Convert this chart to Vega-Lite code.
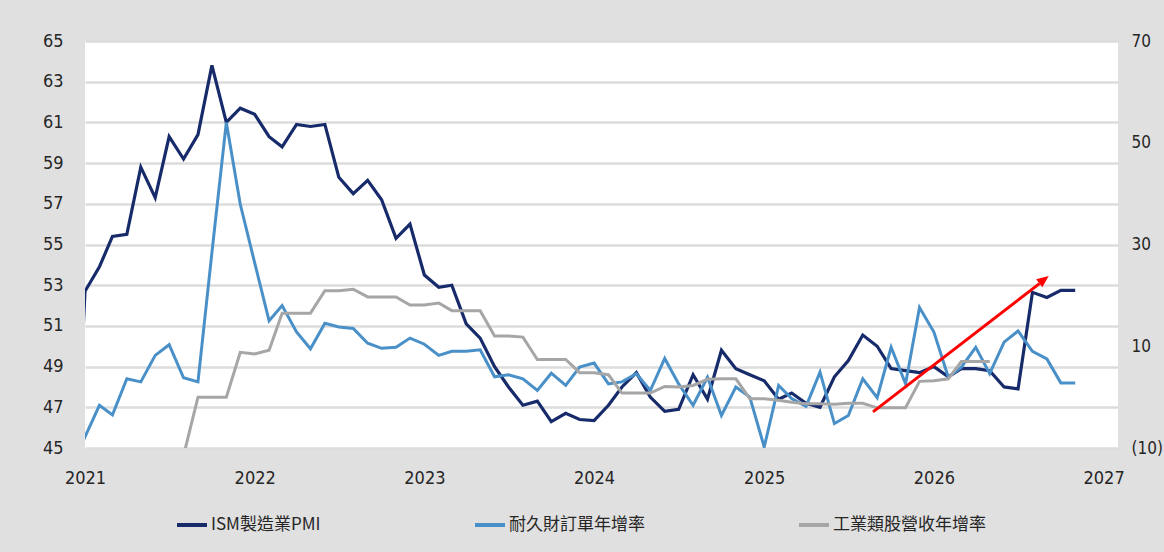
{
  "$schema": "https://vega.github.io/schema/vega-lite/v6.json",
  "width": 1033,
  "height": 407,
  "autosize": {"type": "none"},
  "padding": {"left": 85, "top": 41, "right": 46, "bottom": 104},
  "background": "#e0e0e0",
  "datasets": {
    "pmi": [
      {"d": "2020-12-01", "s": "ISM製造業PMI", "v": 38},
      {"d": "2021-01-01", "s": "ISM製造業PMI", "v": 52.7},
      {"d": "2021-02-01", "s": "ISM製造業PMI", "v": 53.9},
      {"d": "2021-03-01", "s": "ISM製造業PMI", "v": 55.4},
      {"d": "2021-04-01", "s": "ISM製造業PMI", "v": 55.5},
      {"d": "2021-05-01", "s": "ISM製造業PMI", "v": 58.8},
      {"d": "2021-06-01", "s": "ISM製造業PMI", "v": 57.3},
      {"d": "2021-07-01", "s": "ISM製造業PMI", "v": 60.3},
      {"d": "2021-08-01", "s": "ISM製造業PMI", "v": 59.2},
      {"d": "2021-09-01", "s": "ISM製造業PMI", "v": 60.4},
      {"d": "2021-10-01", "s": "ISM製造業PMI", "v": 63.8},
      {"d": "2021-11-01", "s": "ISM製造業PMI", "v": 61.0},
      {"d": "2021-12-01", "s": "ISM製造業PMI", "v": 61.7},
      {"d": "2022-01-01", "s": "ISM製造業PMI", "v": 61.4},
      {"d": "2022-02-01", "s": "ISM製造業PMI", "v": 60.3},
      {"d": "2022-03-01", "s": "ISM製造業PMI", "v": 59.8},
      {"d": "2022-04-01", "s": "ISM製造業PMI", "v": 60.9},
      {"d": "2022-05-01", "s": "ISM製造業PMI", "v": 60.8},
      {"d": "2022-06-01", "s": "ISM製造業PMI", "v": 60.9},
      {"d": "2022-07-01", "s": "ISM製造業PMI", "v": 58.3},
      {"d": "2022-08-01", "s": "ISM製造業PMI", "v": 57.5},
      {"d": "2022-09-01", "s": "ISM製造業PMI", "v": 58.15},
      {"d": "2022-10-01", "s": "ISM製造業PMI", "v": 57.2},
      {"d": "2022-11-01", "s": "ISM製造業PMI", "v": 55.3},
      {"d": "2022-12-01", "s": "ISM製造業PMI", "v": 56.0},
      {"d": "2023-01-01", "s": "ISM製造業PMI", "v": 53.5},
      {"d": "2023-02-01", "s": "ISM製造業PMI", "v": 52.9},
      {"d": "2023-03-01", "s": "ISM製造業PMI", "v": 53.0},
      {"d": "2023-04-01", "s": "ISM製造業PMI", "v": 51.1},
      {"d": "2023-05-01", "s": "ISM製造業PMI", "v": 50.4},
      {"d": "2023-06-01", "s": "ISM製造業PMI", "v": 49.0},
      {"d": "2023-07-01", "s": "ISM製造業PMI", "v": 48.0},
      {"d": "2023-08-01", "s": "ISM製造業PMI", "v": 47.1},
      {"d": "2023-09-01", "s": "ISM製造業PMI", "v": 47.3},
      {"d": "2023-10-01", "s": "ISM製造業PMI", "v": 46.3},
      {"d": "2023-11-01", "s": "ISM製造業PMI", "v": 46.7},
      {"d": "2023-12-01", "s": "ISM製造業PMI", "v": 46.4},
      {"d": "2024-01-01", "s": "ISM製造業PMI", "v": 46.35},
      {"d": "2024-02-01", "s": "ISM製造業PMI", "v": 47.1},
      {"d": "2024-03-01", "s": "ISM製造業PMI", "v": 48.0},
      {"d": "2024-04-01", "s": "ISM製造業PMI", "v": 48.7},
      {"d": "2024-05-01", "s": "ISM製造業PMI", "v": 47.5},
      {"d": "2024-06-01", "s": "ISM製造業PMI", "v": 46.8},
      {"d": "2024-07-01", "s": "ISM製造業PMI", "v": 46.9},
      {"d": "2024-08-01", "s": "ISM製造業PMI", "v": 48.6},
      {"d": "2024-09-01", "s": "ISM製造業PMI", "v": 47.4},
      {"d": "2024-10-01", "s": "ISM製造業PMI", "v": 49.8},
      {"d": "2024-11-01", "s": "ISM製造業PMI", "v": 48.9},
      {"d": "2024-12-01", "s": "ISM製造業PMI", "v": 48.6},
      {"d": "2025-01-01", "s": "ISM製造業PMI", "v": 48.3},
      {"d": "2025-02-01", "s": "ISM製造業PMI", "v": 47.4},
      {"d": "2025-03-01", "s": "ISM製造業PMI", "v": 47.7},
      {"d": "2025-04-01", "s": "ISM製造業PMI", "v": 47.2},
      {"d": "2025-05-01", "s": "ISM製造業PMI", "v": 47.0},
      {"d": "2025-06-01", "s": "ISM製造業PMI", "v": 48.5},
      {"d": "2025-07-01", "s": "ISM製造業PMI", "v": 49.3},
      {"d": "2025-08-01", "s": "ISM製造業PMI", "v": 50.55},
      {"d": "2025-09-01", "s": "ISM製造業PMI", "v": 50.0},
      {"d": "2025-10-01", "s": "ISM製造業PMI", "v": 48.9},
      {"d": "2025-11-01", "s": "ISM製造業PMI", "v": 48.8},
      {"d": "2025-12-01", "s": "ISM製造業PMI", "v": 48.7},
      {"d": "2026-01-01", "s": "ISM製造業PMI", "v": 49.0},
      {"d": "2026-02-01", "s": "ISM製造業PMI", "v": 48.5},
      {"d": "2026-03-01", "s": "ISM製造業PMI", "v": 48.9},
      {"d": "2026-04-01", "s": "ISM製造業PMI", "v": 48.9},
      {"d": "2026-05-01", "s": "ISM製造業PMI", "v": 48.8},
      {"d": "2026-06-01", "s": "ISM製造業PMI", "v": 48.0},
      {"d": "2026-07-01", "s": "ISM製造業PMI", "v": 47.9},
      {"d": "2026-08-01", "s": "ISM製造業PMI", "v": 52.65},
      {"d": "2026-09-01", "s": "ISM製造業PMI", "v": 52.4},
      {"d": "2026-10-01", "s": "ISM製造業PMI", "v": 52.75},
      {"d": "2026-11-01", "s": "ISM製造業PMI", "v": 52.75}
    ],
    "yoy": [
      {"d": "2020-12-01", "s": "耐久財訂單年增率", "v": -14},
      {"d": "2021-01-01", "s": "耐久財訂單年增率", "v": -7.8},
      {"d": "2021-02-01", "s": "耐久財訂單年增率", "v": -1.6},
      {"d": "2021-03-01", "s": "耐久財訂單年增率", "v": -3.5},
      {"d": "2021-04-01", "s": "耐久財訂單年增率", "v": 3.6},
      {"d": "2021-05-01", "s": "耐久財訂單年增率", "v": 3.0},
      {"d": "2021-06-01", "s": "耐久財訂單年增率", "v": 8.2},
      {"d": "2021-07-01", "s": "耐久財訂單年增率", "v": 10.3},
      {"d": "2021-08-01", "s": "耐久財訂單年增率", "v": 3.8},
      {"d": "2021-09-01", "s": "耐久財訂單年增率", "v": 3.0},
      {"d": "2021-10-01", "s": "耐久財訂單年增率", "v": 28.4},
      {"d": "2021-11-01", "s": "耐久財訂單年增率", "v": 54.0},
      {"d": "2021-12-01", "s": "耐久財訂單年增率", "v": 37.9},
      {"d": "2022-01-01", "s": "耐久財訂單年增率", "v": 26.4},
      {"d": "2022-02-01", "s": "耐久財訂單年增率", "v": 15.0},
      {"d": "2022-03-01", "s": "耐久財訂單年增率", "v": 18.0},
      {"d": "2022-04-01", "s": "耐久財訂單年增率", "v": 12.8},
      {"d": "2022-05-01", "s": "耐久財訂單年增率", "v": 9.5},
      {"d": "2022-06-01", "s": "耐久財訂單年增率", "v": 14.5},
      {"d": "2022-07-01", "s": "耐久財訂單年增率", "v": 13.8},
      {"d": "2022-08-01", "s": "耐久財訂單年增率", "v": 13.5},
      {"d": "2022-09-01", "s": "耐久財訂單年增率", "v": 10.6},
      {"d": "2022-10-01", "s": "耐久財訂單年增率", "v": 9.6},
      {"d": "2022-11-01", "s": "耐久財訂單年增率", "v": 9.8},
      {"d": "2022-12-01", "s": "耐久財訂單年增率", "v": 11.6},
      {"d": "2023-01-01", "s": "耐久財訂單年增率", "v": 10.4},
      {"d": "2023-02-01", "s": "耐久財訂單年增率", "v": 8.2},
      {"d": "2023-03-01", "s": "耐久財訂單年增率", "v": 9.0},
      {"d": "2023-04-01", "s": "耐久財訂單年增率", "v": 9.0},
      {"d": "2023-05-01", "s": "耐久財訂單年增率", "v": 9.3},
      {"d": "2023-06-01", "s": "耐久財訂單年增率", "v": 4.0},
      {"d": "2023-07-01", "s": "耐久財訂單年增率", "v": 4.4},
      {"d": "2023-08-01", "s": "耐久財訂單年增率", "v": 3.6},
      {"d": "2023-09-01", "s": "耐久財訂單年增率", "v": 1.3},
      {"d": "2023-10-01", "s": "耐久財訂單年增率", "v": 4.7},
      {"d": "2023-11-01", "s": "耐久財訂單年增率", "v": 2.3},
      {"d": "2023-12-01", "s": "耐久財訂單年增率", "v": 5.9},
      {"d": "2024-01-01", "s": "耐久財訂單年增率", "v": 6.7},
      {"d": "2024-02-01", "s": "耐久財訂單年增率", "v": 2.6},
      {"d": "2024-03-01", "s": "耐久財訂單年增率", "v": 3.0},
      {"d": "2024-04-01", "s": "耐久財訂單年增率", "v": 4.6},
      {"d": "2024-05-01", "s": "耐久財訂單年增率", "v": 1.3},
      {"d": "2024-06-01", "s": "耐久財訂單年增率", "v": 7.6},
      {"d": "2024-07-01", "s": "耐久財訂單年增率", "v": 2.6},
      {"d": "2024-08-01", "s": "耐久財訂單年增率", "v": -1.6},
      {"d": "2024-09-01", "s": "耐久財訂單年增率", "v": 3.9},
      {"d": "2024-10-01", "s": "耐久財訂單年增率", "v": -3.6},
      {"d": "2024-11-01", "s": "耐久財訂單年增率", "v": 2.0},
      {"d": "2024-12-01", "s": "耐久財訂單年增率", "v": 0.0},
      {"d": "2025-01-01", "s": "耐久財訂單年增率", "v": -9.8},
      {"d": "2025-02-01", "s": "耐久財訂單年增率", "v": 2.3},
      {"d": "2025-03-01", "s": "耐久財訂單年增率", "v": -0.3},
      {"d": "2025-04-01", "s": "耐久財訂單年增率", "v": -1.8},
      {"d": "2025-05-01", "s": "耐久財訂單年增率", "v": 4.9},
      {"d": "2025-06-01", "s": "耐久財訂單年增率", "v": -5.2},
      {"d": "2025-07-01", "s": "耐久財訂單年增率", "v": -3.6},
      {"d": "2025-08-01", "s": "耐久財訂單年增率", "v": 3.6},
      {"d": "2025-09-01", "s": "耐久財訂單年增率", "v": -0.1},
      {"d": "2025-10-01", "s": "耐久財訂單年增率", "v": 9.8},
      {"d": "2025-11-01", "s": "耐久財訂單年增率", "v": 2.6},
      {"d": "2025-12-01", "s": "耐久財訂單年增率", "v": 17.6},
      {"d": "2026-01-01", "s": "耐久財訂單年增率", "v": 12.8},
      {"d": "2026-02-01", "s": "耐久財訂單年增率", "v": 3.9},
      {"d": "2026-03-01", "s": "耐久財訂單年增率", "v": 5.9},
      {"d": "2026-04-01", "s": "耐久財訂單年增率", "v": 9.8},
      {"d": "2026-05-01", "s": "耐久財訂單年增率", "v": 4.6},
      {"d": "2026-06-01", "s": "耐久財訂單年增率", "v": 10.8},
      {"d": "2026-07-01", "s": "耐久財訂單年增率", "v": 13.0},
      {"d": "2026-08-01", "s": "耐久財訂單年增率", "v": 9.0},
      {"d": "2026-09-01", "s": "耐久財訂單年增率", "v": 7.5},
      {"d": "2026-10-01", "s": "耐久財訂單年增率", "v": 2.8},
      {"d": "2026-11-01", "s": "耐久財訂單年增率", "v": 2.8},
      {"d": "2021-08-01", "s": "工業類股營收年增率", "v": -11.5},
      {"d": "2021-09-01", "s": "工業類股營收年增率", "v": 0.0},
      {"d": "2021-10-01", "s": "工業類股營收年增率", "v": 0.0},
      {"d": "2021-11-01", "s": "工業類股營收年增率", "v": 0.0},
      {"d": "2021-12-01", "s": "工業類股營收年增率", "v": 8.8},
      {"d": "2022-01-01", "s": "工業類股營收年增率", "v": 8.5},
      {"d": "2022-02-01", "s": "工業類股營收年增率", "v": 9.2},
      {"d": "2022-03-01", "s": "工業類股營收年增率", "v": 16.5},
      {"d": "2022-04-01", "s": "工業類股營收年增率", "v": 16.5},
      {"d": "2022-05-01", "s": "工業類股營收年增率", "v": 16.5},
      {"d": "2022-06-01", "s": "工業類股營收年增率", "v": 20.9},
      {"d": "2022-07-01", "s": "工業類股營收年增率", "v": 20.9},
      {"d": "2022-08-01", "s": "工業類股營收年增率", "v": 21.2},
      {"d": "2022-09-01", "s": "工業類股營收年增率", "v": 19.7},
      {"d": "2022-10-01", "s": "工業類股營收年增率", "v": 19.7},
      {"d": "2022-11-01", "s": "工業類股營收年增率", "v": 19.7},
      {"d": "2022-12-01", "s": "工業類股營收年增率", "v": 18.1},
      {"d": "2023-01-01", "s": "工業類股營收年增率", "v": 18.1},
      {"d": "2023-02-01", "s": "工業類股營收年增率", "v": 18.5},
      {"d": "2023-03-01", "s": "工業類股營收年增率", "v": 17.0},
      {"d": "2023-04-01", "s": "工業類股營收年增率", "v": 17.0},
      {"d": "2023-05-01", "s": "工業類股營收年增率", "v": 17.0},
      {"d": "2023-06-01", "s": "工業類股營收年增率", "v": 12.0},
      {"d": "2023-07-01", "s": "工業類股營收年增率", "v": 12.0},
      {"d": "2023-08-01", "s": "工業類股營收年增率", "v": 11.8},
      {"d": "2023-09-01", "s": "工業類股營收年增率", "v": 7.4},
      {"d": "2023-10-01", "s": "工業類股營收年增率", "v": 7.4},
      {"d": "2023-11-01", "s": "工業類股營收年增率", "v": 7.4},
      {"d": "2023-12-01", "s": "工業類股營收年增率", "v": 4.8},
      {"d": "2024-01-01", "s": "工業類股營收年增率", "v": 4.8},
      {"d": "2024-02-01", "s": "工業類股營收年增率", "v": 4.4},
      {"d": "2024-03-01", "s": "工業類股營收年增率", "v": 0.8},
      {"d": "2024-04-01", "s": "工業類股營收年增率", "v": 0.8},
      {"d": "2024-05-01", "s": "工業類股營收年增率", "v": 0.8},
      {"d": "2024-06-01", "s": "工業類股營收年增率", "v": 2.1},
      {"d": "2024-07-01", "s": "工業類股營收年增率", "v": 2.0},
      {"d": "2024-08-01", "s": "工業類股營收年增率", "v": 2.3},
      {"d": "2024-09-01", "s": "工業類股營收年增率", "v": 3.5},
      {"d": "2024-10-01", "s": "工業類股營收年增率", "v": 3.6},
      {"d": "2024-11-01", "s": "工業類股營收年增率", "v": 3.6},
      {"d": "2024-12-01", "s": "工業類股營收年增率", "v": -0.3},
      {"d": "2025-01-01", "s": "工業類股營收年增率", "v": -0.3},
      {"d": "2025-02-01", "s": "工業類股營收年增率", "v": -0.6},
      {"d": "2025-03-01", "s": "工業類股營收年增率", "v": -1.0},
      {"d": "2025-04-01", "s": "工業類股營收年增率", "v": -1.3},
      {"d": "2025-05-01", "s": "工業類股營收年增率", "v": -1.3},
      {"d": "2025-06-01", "s": "工業類股營收年增率", "v": -1.4},
      {"d": "2025-07-01", "s": "工業類股營收年增率", "v": -1.2},
      {"d": "2025-08-01", "s": "工業類股營收年增率", "v": -1.2},
      {"d": "2025-09-01", "s": "工業類股營收年增率", "v": -2.1},
      {"d": "2025-10-01", "s": "工業類股營收年增率", "v": -2.1},
      {"d": "2025-11-01", "s": "工業類股營收年增率", "v": -2.1},
      {"d": "2025-12-01", "s": "工業類股營收年增率", "v": 3.1},
      {"d": "2026-01-01", "s": "工業類股營收年增率", "v": 3.2},
      {"d": "2026-02-01", "s": "工業類股營收年增率", "v": 3.6},
      {"d": "2026-03-01", "s": "工業類股營收年增率", "v": 7.0},
      {"d": "2026-04-01", "s": "工業類股營收年增率", "v": 7.0},
      {"d": "2026-05-01", "s": "工業類股營收年增率", "v": 7.0}
    ],
    "arrow": [
      {"d": "2025-08-23", "v": -2.9, "d2": "2026-08-16", "v2": 22.3}
    ],
    "arrowhead": [
      {"d": "2026-09-05", "v": 23.8}
    ]
  },
  "layer": [
    {
      "data": {"name": "pmi"},
      "mark": {"type": "line", "strokeWidth": 3.2, "clip": true, "strokeJoin": "miter"},
      "encoding": {
        "x": {
          "field": "d", "type": "temporal",
          "scale": {"type": "utc", "domain": [{"year": 2021, "month": 1, "date": 1, "utc": true}, {"year": 2027, "month": 2, "date": 1, "utc": true}]},
          "axis": {
            "title": null, "grid": false, "format": "%Y", "labelFlush": false, "labelOverlap": false,
            "labelPadding": 21,
            "values": [
              {"year": 2021, "month": 1, "date": 1, "utc": true},
              {"year": 2022, "month": 1, "date": 1, "utc": true},
              {"year": 2023, "month": 1, "date": 1, "utc": true},
              {"year": 2024, "month": 1, "date": 1, "utc": true},
              {"year": 2025, "month": 1, "date": 1, "utc": true},
              {"year": 2026, "month": 1, "date": 1, "utc": true},
              {"year": 2027, "month": 1, "date": 1, "utc": true}
            ]
          }
        },
        "y": {
          "field": "v", "type": "quantitative",
          "scale": {"domain": [45, 65], "nice": false, "zero": false},
          "axis": {
            "title": null, "orient": "left", "values": [45, 47, 49, 51, 53, 55, 57, 59, 61, 63, 65],
            "grid": true, "gridColor": "#dcdcdc", "gridWidth": 2.5, "labelPadding": 22
          }
        },
        "color": {
          "field": "s", "type": "nominal",
          "scale": {"domain": ["ISM製造業PMI", "耐久財訂單年增率", "工業類股營收年增率"], "range": ["#172b6b", "#4a90c8", "#a6a6a6"]},
          "legend": {"title": null}
        }
      }
    },
    {
      "layer": [
        {
          "data": {"name": "yoy"},
          "mark": {"type": "line", "strokeWidth": 3, "clip": true, "strokeJoin": "miter"},
          "encoding": {
            "x": {"field": "d", "type": "temporal", "title": null},
            "y": {
              "field": "v", "type": "quantitative",
              "scale": {"domain": [-10, 70], "nice": false, "zero": false},
              "axis": {
                "title": null, "orient": "right", "values": [-10, 10, 30, 50, 70], "grid": false,
                "labelPadding": 13, "labelFontSize": 17,
                "labelExpr": "datum.value < 0 ? '(' + format(-datum.value, 'd') + ')' : format(datum.value, 'd')"
              }
            },
            "color": {"field": "s", "type": "nominal", "legend": {"title": null}},
            "detail": {"field": "s"}
          }
        },
        {
          "data": {"name": "arrow"},
          "mark": {"type": "rule", "color": "#ff0000", "strokeWidth": 3},
          "encoding": {
            "x": {"field": "d", "type": "temporal", "title": null},
            "x2": {"field": "d2"},
            "y": {"field": "v", "type": "quantitative", "title": null},
            "y2": {"field": "v2"}
          }
        },
        {
          "data": {"name": "arrowhead"},
          "mark": {"type": "point", "filled": true, "color": "#ff0000", "opacity": 1, "size": 576, "angle": 52.4, "shape": "M0,0L0.42,1L-0.42,1Z"},
          "encoding": {
            "x": {"field": "d", "type": "temporal", "title": null},
            "y": {"field": "v", "type": "quantitative", "title": null}
          }
        }
      ]
    }
  ],
  "resolve": {"scale": {"y": "independent"}},
  "config": {
    "view": {"fill": "white", "stroke": null},
    "axis": {
      "domain": false, "ticks": false, "tickSize": 0,
      "labelFont": "Liberation Sans Narrow, DejaVu Sans Condensed, sans-serif",
      "labelFontSize": 18, "labelColor": "#262626"
    },
    "legend": {
      "orient": "none", "legendX": 90, "legendY": 467, "direction": "horizontal",
      "symbolType": "stroke", "symbolSize": 900, "symbolStrokeWidth": 4,
      "labelFont": "Liberation Sans Narrow, Noto Sans CJK TC, sans-serif",
      "labelFontSize": 17, "labelColor": "#262626", "labelOffset": 2,
      "columnPadding": 146, "padding": 0
    }
  }
}
